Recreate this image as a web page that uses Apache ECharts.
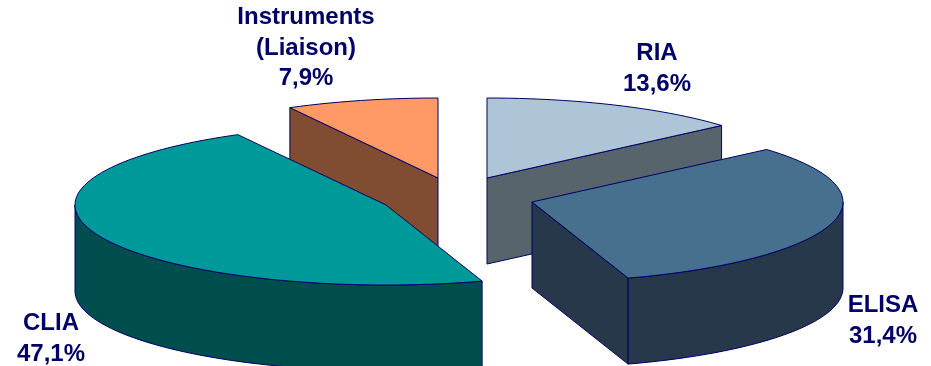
<!DOCTYPE html>
<html>
<head>
<meta charset="utf-8">
<style>html,body{margin:0;padding:0;background:#fff}#chart{width:931px;height:366px}</style>
<script src="https://cdn.jsdelivr.net/npm/echarts@6/dist/echarts.min.js"></script>
</head>
<body>
<div id="chart"></div>
<script>
// Segments in clockwise order, starting at twelve o'clock
const names = ['RIA', 'ELISA', 'CLIA', 'Instruments\n(Liaison)'];
const shares = [13.6, 31.4, 47.1, 7.9];

// Exploded centre of each slice, in chart units
const centreX = [487, 532, 386, 438];
const centreY = [178, 202, 205, 178];
const labelX = [657, 883, 51, 306];
const labelY = [69, 321, 339, 48];

const topColors = ['#AEC5D7', '#476F8E', '#009999', '#FF9966'];
const sideColors = ['#57646C', '#263849', '#004D4D', '#804D33'];
const edgeColor = '#000066';

const radiusX = 311;
const radiusY = 80;
const depth = 86;
const arcStep = 2;

const total = shares.reduce((a, b) => a + b, 0);
let running = 0;
const rows = shares.map((share, i) => {
  const row = [running / total * 360, (running + share) / total * 360, centreX[i], centreY[i], i];
  running += share;
  return row;
});
// Slices further back are painted first
const paintOrder = rows.slice().sort((a, b) => a[3] - b[3]);

const rad = d => d * Math.PI / 180;

function renderSlice(params, api) {
  const a0 = api.value(0), a1 = api.value(1);
  const cx = api.value(2), cy = api.value(3);
  const i = api.value(4);
  const rim = a => [cx + radiusX * Math.sin(rad(a)), cy - radiusY * Math.cos(rad(a))];
  const toPixel = p => api.coord(p);
  const drop = p => [p[0], p[1] + depth];
  const poly = (pts, fill, z2) => ({
    type: 'polygon',
    z2,
    shape: { points: pts.map(toPixel) },
    style: { fill, stroke: edgeColor, lineWidth: 1, lineJoin: 'round' }
  });
  const arc = (from, to) => {
    const pts = [];
    for (let a = from; a < to; a += arcStep) pts.push(rim(a));
    pts.push(rim(to));
    return pts;
  };

  const children = [];
  const centre = [cx, cy];

  // Cut faces that turn towards the viewer
  if (Math.sin(rad(a0)) < -1e-6) {
    const e = rim(a0);
    children.push(poly([centre, e, drop(e), drop(centre)], sideColors[i], 1));
  }
  if (Math.sin(rad(a1)) > 1e-6) {
    const e = rim(a1);
    children.push(poly([centre, e, drop(e), drop(centre)], sideColors[i], 1));
  }
  // Outer wall: only the part of the rim on the near half of the ellipse
  const w0 = Math.max(a0, 90), w1 = Math.min(a1, 270);
  if (w1 > w0) {
    const top = arc(w0, w1);
    children.push(poly(top.concat(top.slice().reverse().map(drop)), sideColors[i], 2));
  }
  // Top face
  children.push(poly([centre].concat(arc(a0, a1)), topColors[i], 3));

  return { type: 'group', children };
}

function renderLabel(params, api) {
  const i = api.value(0);
  const p = api.coord([labelX[i], labelY[i]]);
  return {
    type: 'text',
    z2: 10,
    style: {
      text: names[i] + '\n' + shares[i].toFixed(1).replace('.', ',') + '%',
      x: p[0],
      y: p[1],
      align: 'center',
      verticalAlign: 'middle',
      fontFamily: '"Liberation Sans", Arial, sans-serif',
      fontWeight: 'bold',
      fontSize: 24,
      lineHeight: 30.5,
      fill: edgeColor
    }
  };
}

const chart = echarts.init(document.getElementById('chart'), null, { renderer: 'canvas' });
chart.setOption({
  animation: false,
  backgroundColor: '#ffffff',
  grid: { left: 0, right: 0, top: 0, bottom: 0 },
  xAxis: { type: 'value', min: 0, max: 931, show: false },
  yAxis: { type: 'value', min: 0, max: 366, inverse: true, show: false },
  series: [
    {
      type: 'custom',
      coordinateSystem: 'cartesian2d',
      clip: true,
      silent: true,
      renderItem: renderSlice,
      encode: { x: 2, y: 3 },
      data: paintOrder
    },
    {
      type: 'custom',
      coordinateSystem: 'cartesian2d',
      silent: true,
      z: 5,
      renderItem: renderLabel,
      data: names.map((n, i) => [i])
    }
  ]
});
</script>
</body>
</html>
